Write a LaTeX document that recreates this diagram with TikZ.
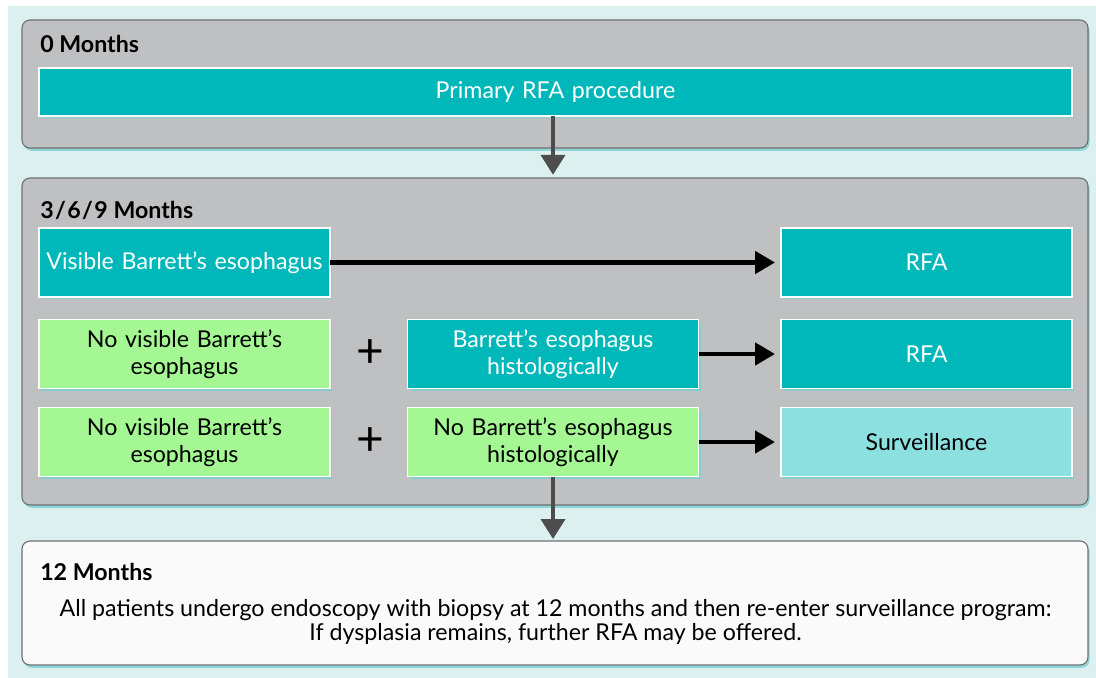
\documentclass[tikz,border=0pt]{standalone}
\usepackage{fontspec}
\setmainfont{Lato}
\usetikzlibrary{arrows.meta,shadows,positioning}
\definecolor{bgcyan}{HTML}{DDF0F0}
\definecolor{phasegray}{HTML}{BEC0C2}
\definecolor{rimgray}{HTML}{6E7072}
\definecolor{rfateal}{HTML}{00B7B9}
\definecolor{nogreen}{HTML}{A5F794}
\definecolor{survcyan}{HTML}{8CE0E0}
\definecolor{arrowgray}{HTML}{4D4D4D}
\definecolor{shadeteal}{HTML}{7CCFCF}
\tikzset{
  phase/.style={draw=rimgray, line width=0.8pt, rounded corners=0.2cm, fill=phasegray, minimum width=26.65cm, anchor=north west, inner sep=0, outer sep=0,
    drop shadow={shadow xshift=0.04cm, shadow yshift=-0.07cm, fill=shadeteal, opacity=0.8}},
  cell/.style={draw=white, line width=1pt, minimum height=1.725cm, minimum width=7.275cm, text width=7cm, align=center, inner sep=0, outer sep=0,
    font=\fontsize{16.5pt}{19.5pt}\selectfont, drop shadow={shadow xshift=0.05cm, shadow yshift=-0.06cm, fill=shadeteal, opacity=0.8}},
  tealcell/.style={cell, fill=rfateal, text=white},
  greencell/.style={cell, fill=nogreen, text=black},
  survcell/.style={cell, fill=survcyan, text=black},
  header/.style={anchor=west, inner sep=0, font=\fontsize{16.5pt}{19.5pt}\selectfont\bfseries},
  plussign/.style={inner sep=0, font=\fontsize{34pt}{34pt}\selectfont},
  flow/.style={line width=0.12cm, -{Triangle[length=0.5cm, width=0.55cm]}},
  down/.style={draw=arrowgray, line width=0.1cm, -{Triangle[length=0.5cm, width=0.6cm]}},
}
\begin{document}
\begin{tikzpicture}
\useasboundingbox (0,0) rectangle (27.4,-16.95);
\fill[bgcyan] (0.2,-0.15) rectangle (27.4,-16.95);
%%% Start 0 Months
        \node[phase, minimum height=3.2cm] (m0) at (0.55,-0.5) {};
        \node[header] (h0) at (1.0,-1.1) {0 Months};
        \node[tealcell, minimum width=25.825cm, minimum height=1.2cm, text width=25cm] (primary) at (13.8875,-2.3) {Primary RFA procedure};
%%% End 0 Months
%%% Start 3/6/9 Months
        \node[phase, minimum height=8.175cm] (m369) at (0.55,-4.45) {};
        \node[header] (h369) at (1.0,-5.25) {3\kern1pt/\kern1pt6\kern1pt/\kern1pt9 Months};
        \node[tealcell] (vis) at (4.6125,-6.5625) {Visible Barrett's esophagus};
        \node[tealcell] (rfaa) at (23.1625,-6.5625) {RFA};
        \node[greencell] (novisa) at (4.6125,-8.85) {No visible Barrett's\\esophagus};
        \node[plussign] (plusa) at (9.25,-8.85) {+};
        \node[tealcell] (hista) at (13.825,-8.85) {Barrett's esophagus\\histologically};
        \node[tealcell] (rfab) at (23.1625,-8.85) {RFA};
        \node[greencell] (novisb) at (4.6125,-11.05) {No visible Barrett's\\esophagus};
        \node[plussign] (plusb) at (9.25,-11.05) {+};
        \node[greencell] (histb) at (13.825,-11.05) {No Barrett's esophagus\\histologically};
        \node[survcell] (surv) at (23.1625,-11.05) {Surveillance};
%%% End 3/6/9 Months
%%% Start 12 Months
        \node[phase, fill=white!98!black, minimum height=3.1cm] (m12) at (0.55,-13.525) {};
        \node[header] (h12) at (1.0,-14.3) {12 Months};
        \node[align=center, inner sep=0, font=\fontsize{16.5pt}{17pt}\selectfont] (note) at (13.8875,-15.55)
          {All patients undergo endoscopy with biopsy at 12 months and then re-enter surveillance program:\\If dysplasia remains, further RFA may be offered.};
%%% End 12 Months
%%% Start arrows
        \draw[flow] (vis.east) -- ([xshift=-0.15cm]rfaa.west);
        \draw[flow] (hista.east) -- ([xshift=-0.15cm]rfab.west);
        \draw[flow] (histb.east) -- ([xshift=-0.15cm]surv.west);
        \draw[down] (primary.south -| hista) -- ([yshift=0.08cm]m369.north -| hista);
        \draw[down] (histb.south) -- ([yshift=0.05cm]m12.north -| histb);
%%% End arrows
\end{tikzpicture}
\end{document}
